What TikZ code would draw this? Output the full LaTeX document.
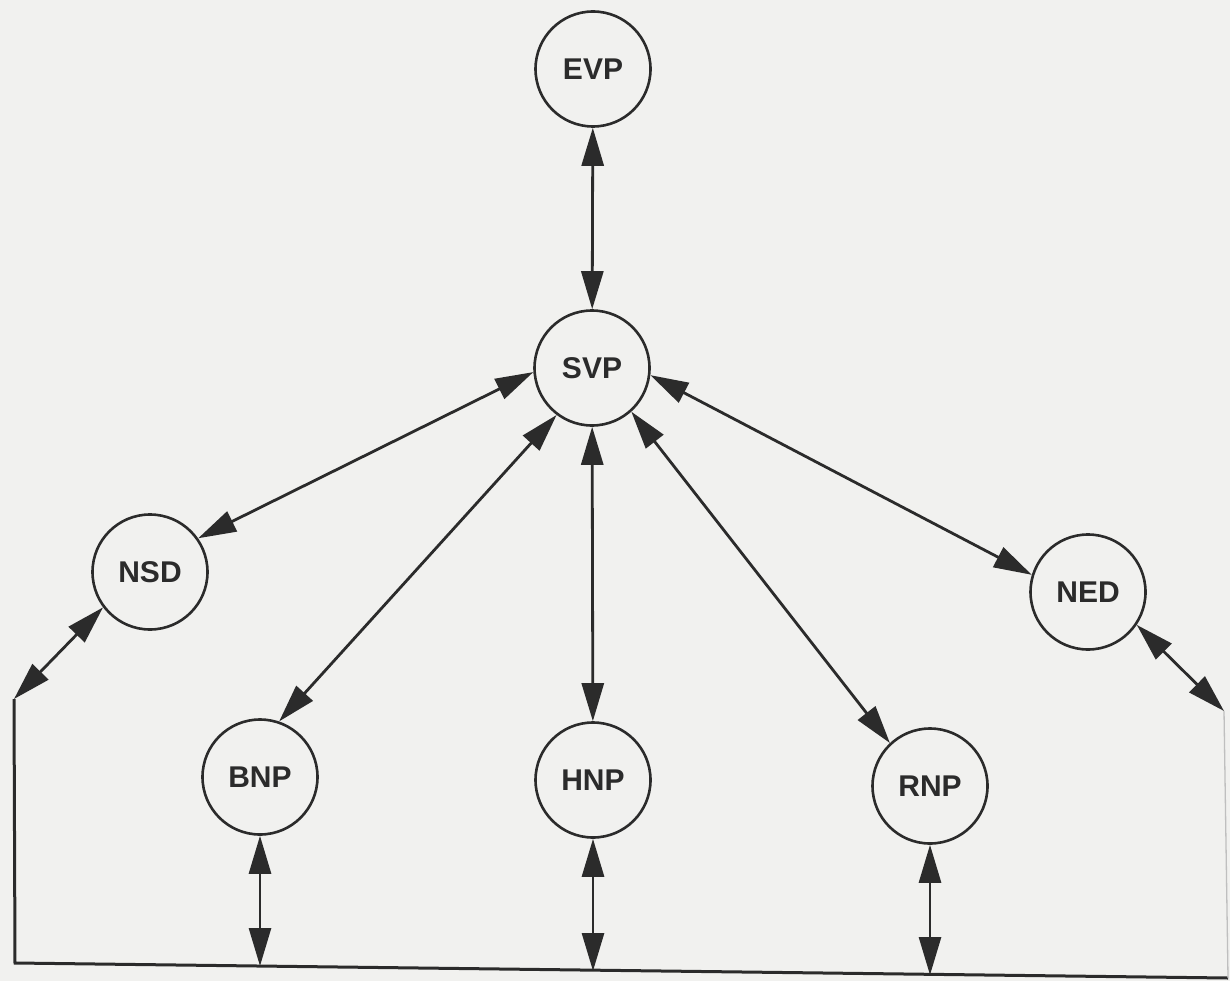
\documentclass[tikz,border=0pt]{standalone}
\usepackage{fontspec}
\setsansfont{Liberation Sans}
\usetikzlibrary{arrows.meta}
\definecolor{ink}{HTML}{2B2B2B}
\definecolor{paper}{HTML}{F1F1EF}
\begin{document}
\begin{tikzpicture}[x=1pt,y=-1pt,
  proc/.style={circle, draw=ink, line width=2.6pt, minimum size=115pt, inner sep=0pt,
               fill=paper, text=ink, font=\sffamily\bfseries\fontsize{30}{30}\selectfont},
  tip/.tip={Triangle[length=38pt,width=22pt]},
  link/.style={draw=ink, line width=2.8pt, tip-tip},
  bus/.style={draw=ink, line width=3pt, line join=miter},
  busfaint/.style={draw=ink!30, line width=1.3pt}]
% page
\fill[paper] (0,0) rectangle (1230,981);
\useasboundingbox (0,0) rectangle (1230,981);

% processes
\node[proc] (evp) at (593,69)  {EVP};
\node[proc] (svp) at (592,368) {SVP};
\node[proc] (nsd) at (150,572) {NSD};
\node[proc] (ned) at (1088,592) {NED};
\node[proc] (bnp) at (260,777) {BNP};
\node[proc] (hnp) at (593,780) {HNP};
\node[proc] (rnp) at (930,786) {RNP};

% shared bus
\coordinate (nw) at (14,699);
\coordinate (sw) at (15,963);
\coordinate (se) at (1228,978);
\coordinate (ne) at (1224,711);
\coordinate (tb) at (260,966);
\coordinate (th) at (593,971);
\coordinate (tr) at (930,975);
\draw[bus] (nw) -- (sw) -- (se);
\draw[busfaint] (ne) -- (se);

% links to the supervisor
\draw[link] (evp) -- (svp);
\draw[link] (svp.184) -- (nsd.35);
\draw[link] (svp.233) -- (bnp.71);
\draw[link] (svp) -- (hnp);
\draw[link] (svp.312) -- (rnp.133);
\draw[link] (svp.353) -- (ned.163);

% links to the bus
\draw[link] (nsd.217) -- (nw);
\draw[link] (ned.326) -- (ne);
\draw[link] (bnp) -- (tb);
\draw[link] (hnp) -- (th);
\draw[link] (rnp) -- (tr);
\end{tikzpicture}
\end{document}
